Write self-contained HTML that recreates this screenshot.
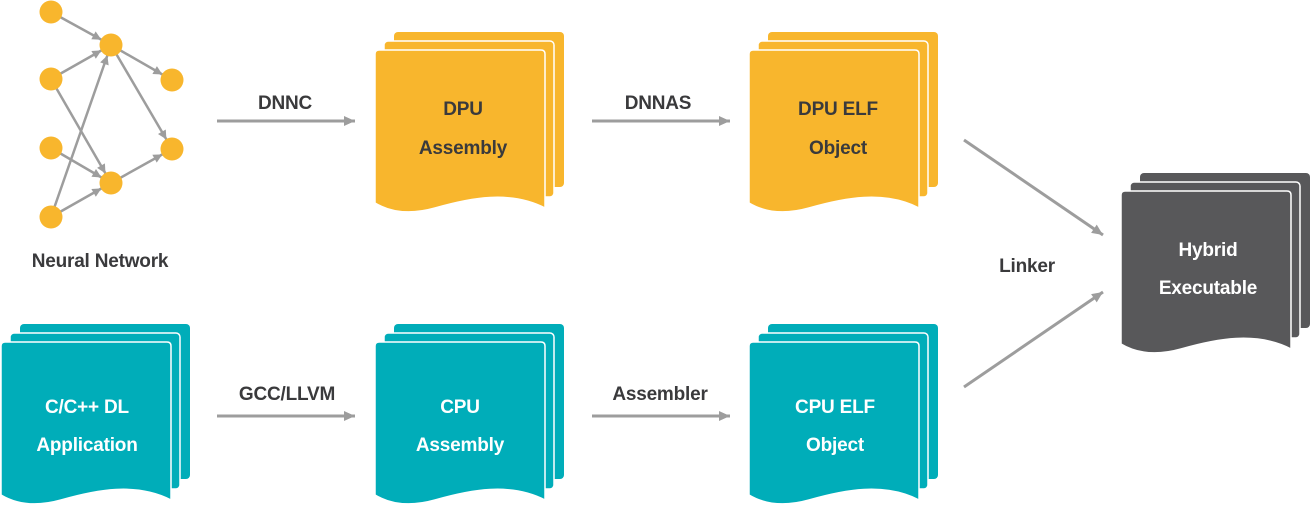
<!DOCTYPE html>
<html><head><meta charset="utf-8"><style>
html,body{margin:0;padding:0;background:#fff;}
svg{display:block;}
text{font-family:"Liberation Sans",sans-serif;font-weight:bold;font-size:19px;text-anchor:middle;letter-spacing:-0.2px;}
</style></head><body>
<svg width="1311" height="508" viewBox="0 0 1311 508" xmlns="http://www.w3.org/2000/svg">
<defs>
<marker id="nh" viewBox="-10 -5 24 10" markerWidth="24" markerHeight="10" refX="11" refY="0" markerUnits="userSpaceOnUse" orient="auto">
<path d="M0,0 L-9,-4.5 L-9,4.5 Z" fill="#9d9d9d"/></marker>
<marker id="ah" viewBox="-12 -6 13 12" markerWidth="13" markerHeight="12" refX="0" refY="0" markerUnits="userSpaceOnUse" orient="auto">
<path d="M0,0 L-11,-5 L-11,5 Z" fill="#9d9d9d"/></marker>
<g id="doc">
<rect x="19" y="-18" width="170" height="155" rx="4"/>
<rect x="9" y="-9" width="170" height="156" rx="4" stroke="#fff" stroke-width="1.5"/>
<path d="M0,4 Q0,0 4,0 H166 Q170,0 170,4 V158 C135,140 95,148 60,158 C35,165 15,162 0,153 Z" stroke="#fff" stroke-width="1.5"/>
</g>
</defs>

<g stroke="#9d9d9d" stroke-width="2.5" marker-end="url(#nh)">
<line x1="51" y1="12" x2="111" y2="45"/>
<line x1="51" y1="79" x2="111" y2="45"/>
<line x1="51" y1="79" x2="111" y2="183"/>
<line x1="51" y1="148" x2="111" y2="183"/>
<line x1="51" y1="217" x2="111" y2="45"/>
<line x1="51" y1="217" x2="111" y2="183"/>
<line x1="111" y1="45" x2="172" y2="80"/>
<line x1="111" y1="45" x2="172" y2="149"/>
<line x1="111" y1="183" x2="172" y2="149"/>
</g>
<g fill="#f8b62d">
<circle cx="51" cy="12" r="11.5"/><circle cx="111" cy="45" r="11.5"/>
<circle cx="51" cy="79" r="11.5"/><circle cx="172" cy="80" r="11.5"/>
<circle cx="51" cy="148" r="11.5"/><circle cx="172" cy="149" r="11.5"/>
<circle cx="111" cy="183" r="11.5"/><circle cx="51" cy="217" r="11.5"/>
</g>
<text x="100" y="267" fill="#3a3a3c">Neural Network</text>

<use href="#doc" x="375" y="50" fill="#f8b62d"/>
<use href="#doc" x="749" y="50" fill="#f8b62d"/>
<use href="#doc" x="1" y="342" fill="#00adb9"/>
<use href="#doc" x="375" y="342" fill="#00adb9"/>
<use href="#doc" x="749" y="342" fill="#00adb9"/>
<use href="#doc" x="1121" y="191" fill="#58585a"/>

<g fill="#3a3a3c">
<text x="463" y="115">DPU</text><text x="463" y="154">Assembly</text>
<text x="838" y="115">DPU ELF</text><text x="838" y="154">Object</text>
</g>
<g fill="#fff">
<text x="87" y="413">C/C++ DL</text><text x="87" y="451">Application</text>
<text x="460" y="413">CPU</text><text x="460" y="451">Assembly</text>
<text x="835" y="413">CPU ELF</text><text x="835" y="451">Object</text>
<text x="1208" y="256">Hybrid</text><text x="1208" y="294">Executable</text>
</g>

<g stroke="#9d9d9d" stroke-width="3" marker-end="url(#ah)">
<line x1="217" y1="121" x2="355" y2="121"/>
<line x1="592" y1="121" x2="730" y2="121"/>
<line x1="217" y1="416" x2="355" y2="416"/>
<line x1="592" y1="416" x2="730" y2="416"/>
<line x1="964" y1="140" x2="1103" y2="235"/>
<line x1="964" y1="387" x2="1103" y2="292"/>
</g>
<g fill="#3a3a3c">
<text x="285" y="109">DNNC</text>
<text x="658" y="109">DNNAS</text>
<text x="287" y="400">GCC/LLVM</text>
<text x="660" y="400">Assembler</text>
<text x="1027" y="272">Linker</text>
</g>
</svg>
</body></html>
